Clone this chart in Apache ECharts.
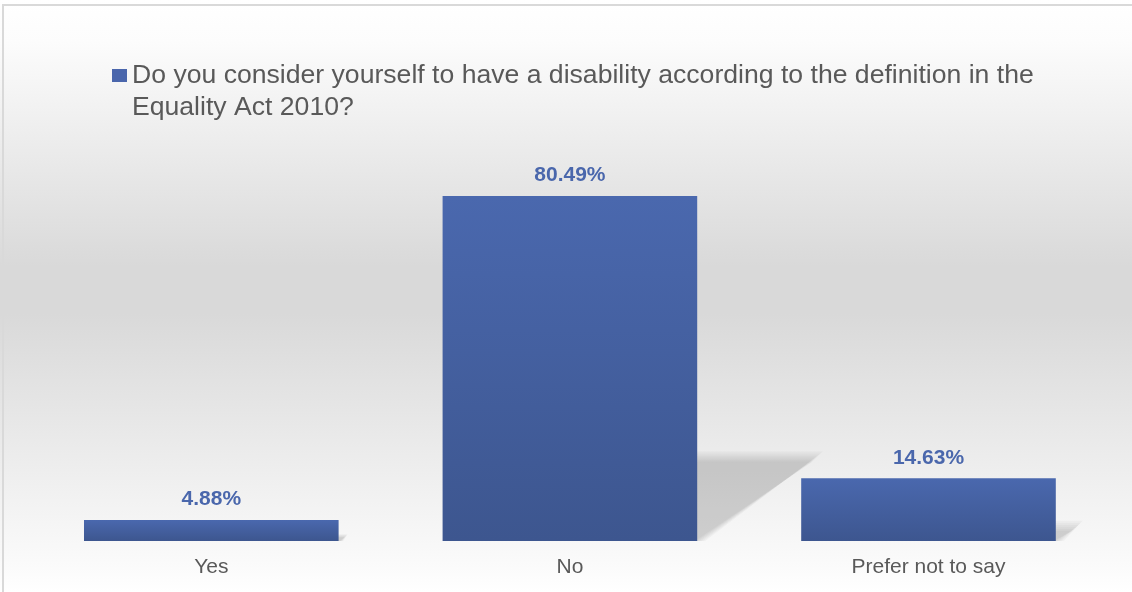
<!DOCTYPE html>
<html>
<head>
<meta charset="utf-8">
<script src="https://cdn.jsdelivr.net/npm/echarts@6/dist/echarts.min.js"></script>
<style>
  html, body { margin: 0; padding: 0; background: #ffffff; }
  #chart {
    width: 1132px; height: 592px;
    background: linear-gradient(to bottom, #ffffff 0%, #fcfcfc 7%, #d9d9d9 45%, #d9d9d9 53%, #fbfbfb 96%, #ffffff 100%);
  }
</style>
</head>
<body>
<div id="chart"></div>
<script>
const categories = ['Yes', 'No', 'Prefer not to say'];
const values = [4.88, 80.49, 14.63];
const seriesName = 'Do you consider yourself to have a disability according to the definition in the\nEquality Act 2010?';

const chart = echarts.init(document.getElementById('chart'), null, { renderer: 'canvas' });
const FONT = "'Liberation Sans', Arial, sans-serif";
const barGap = 0.71;

const option = {
  backgroundColor: 'transparent',
  animation: false,
  textStyle: { fontFamily: FONT },
  graphic: [{
    type: 'rect', z: 100, silent: true,
    shape: { x: 3, y: 5, width: 1140, height: 600 },
    style: { fill: 'none', stroke: '#d9d9d9', lineWidth: 2 }
  }],
  legend: {
    data: [seriesName],
    left: 112, top: 27.5, padding: 0,
    icon: 'rect', itemWidth: 15, itemHeight: 13,
    itemStyle: { color: '#4a66ac' },
    formatter: name => '\n' + name,
    textStyle: { fontFamily: FONT, fontSize: 26.6, lineHeight: 32, color: '#595959' }
  },
  grid: { left: 32, right: 24.2, top: 112.4, bottom: 51, containLabel: false },
  xAxis: {
    type: 'category', data: categories,
    axisLine: { show: false }, axisTick: { show: false },
    axisLabel: { fontFamily: FONT, fontSize: 21, color: '#595959', margin: 16 }
  },
  yAxis: {
    type: 'value', min: 0, max: 100, show: false,
    splitLine: { show: false }
  },
  series: [
    {
      type: 'custom', name: 'shadow', z: 1, silent: true,
      data: values.map((v, i) => [i, v]),
      renderItem: function (params, api) {
        const idx = api.value(0), v = api.value(1);
        const top = api.coord([idx, v]);
        const base = api.coord([idx, 0]);
        const band = api.size([1, 0])[0];
        const bw = band * barGap;
        const xl = base[0] - bw / 2, xr = base[0] + bw / 2;
        const b = base[1];
        const h = b - top[1];
        const dx = 0.35 * h, dy = 0.245 * h;
        const s = Math.min(1, h / 60);
        const children = [-5, -3, -1, 1, 3, 5].map(k0 => {
          const k = k0 * s;
          return {
            type: 'polygon',
            shape: { points: [[xl, b], [xr + 3 + k, b], [xr + dx + k, b - dy - k], [xl + dx - k, b - dy - k]] },
            style: { fill: 'rgba(0,0,0,0.032)' }
          };
        });
        return { type: 'group', children };
      }
    },
    {
      type: 'bar', name: seriesName, z: 5,
      data: values,
      barWidth: '71%',
      itemStyle: {
        color: new echarts.graphic.LinearGradient(0, 0, 0, 1, [
          { offset: 0, color: '#4a68ae' },
          { offset: 1, color: '#3d568f' }
        ])
      },
      label: {
        show: true, position: 'top', distance: 10,
        fontFamily: FONT, fontSize: 21, fontWeight: 'bold', color: '#4a67ac',
        formatter: p => p.value.toFixed(2) + '%'
      }
    }
  ]
};
chart.setOption(option);
</script>
</body>
</html>
